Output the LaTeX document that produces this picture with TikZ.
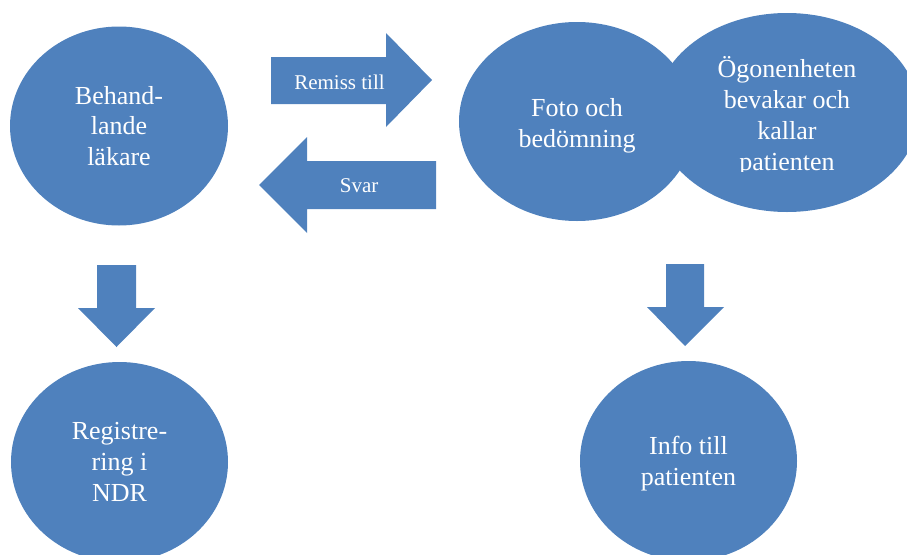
\documentclass[tikz,border=0pt]{standalone}
\usepackage{fontspec}
\setmainfont{Liberation Serif}
\usetikzlibrary{shapes.geometric}
\definecolor{accent}{HTML}{4F81BD}
\begin{document}
\begin{tikzpicture}[x=1pt,y=-1pt,
  bubble/.style={ellipse, fill=accent, draw=none, inner sep=0pt},
  bubbletext/.style={text=white, align=center, inner sep=0pt,
    font=\fontsize{26}{30.8}\selectfont},
  arrowtext/.style={text=white, inner sep=0pt, font=\fontsize{21}{25}\selectfont},
  blockarrow/.style={fill=accent, draw=none}]
\useasboundingbox (0,0) rectangle (907,554);
\clip (0,0) rectangle (907,554);

% process bubbles
\node[bubble, minimum width=218pt, minimum height=199pt] (beh)  at (119,126)   {};
\node[bubble, minimum width=236pt, minimum height=199pt] (foto) at (577,121.5) {};
\node[bubble, minimum width=264pt, minimum height=199pt] (ogon) at (787,112.5) {};
\node[bubble, minimum width=217pt, minimum height=200pt] (reg)  at (119.5,462) {};
\node[bubble, minimum width=217pt, minimum height=200pt] (info) at (688.5,461) {};

% bubble captions
\node[bubbletext] (behT)  at (119,126)   {Behand-\\lande\\läkare};
\node[bubbletext] (fotoT) at (577,126)   {Foto och\\bedömning};
\begin{scope}
  \clip (640,0) rectangle (907,171.5);
  \node[bubbletext] (ogonT) at (787,116.3) {Ögonenheten\\bevakar och\\kallar\\patienten};
\end{scope}
\node[bubbletext] (regT)  at (119.5,461.8) {Registre-\\ring i\\NDR};
\node[bubbletext] (infoT) at (688.5,463.5) {Info till\\patienten};

% block arrows between the bubbles
\fill[blockarrow] (271,57) -- (386,57) -- (386,33) -- (432,80) -- (386,127)
  -- (386,104) -- (271,104) -- cycle;
\fill[blockarrow] (436,161) -- (307,161) -- (307,137) -- (259,185) -- (307,233)
  -- (307,209) -- (436,209) -- cycle;
\fill[blockarrow] (97,265) -- (136,265) -- (136,308) -- (155,308) -- (116.5,347)
  -- (78,308) -- (97,308) -- cycle;
\fill[blockarrow] (666,264) -- (704,264) -- (704,307) -- (724,307) -- (685,346)
  -- (647,307) -- (666,307) -- cycle;

% arrow captions
\node[arrowtext] (remiss) at (339.5,82.2)  {Remiss till};
\node[arrowtext] (svar)   at (359.2,185.6) {Svar};
\end{tikzpicture}
\end{document}
